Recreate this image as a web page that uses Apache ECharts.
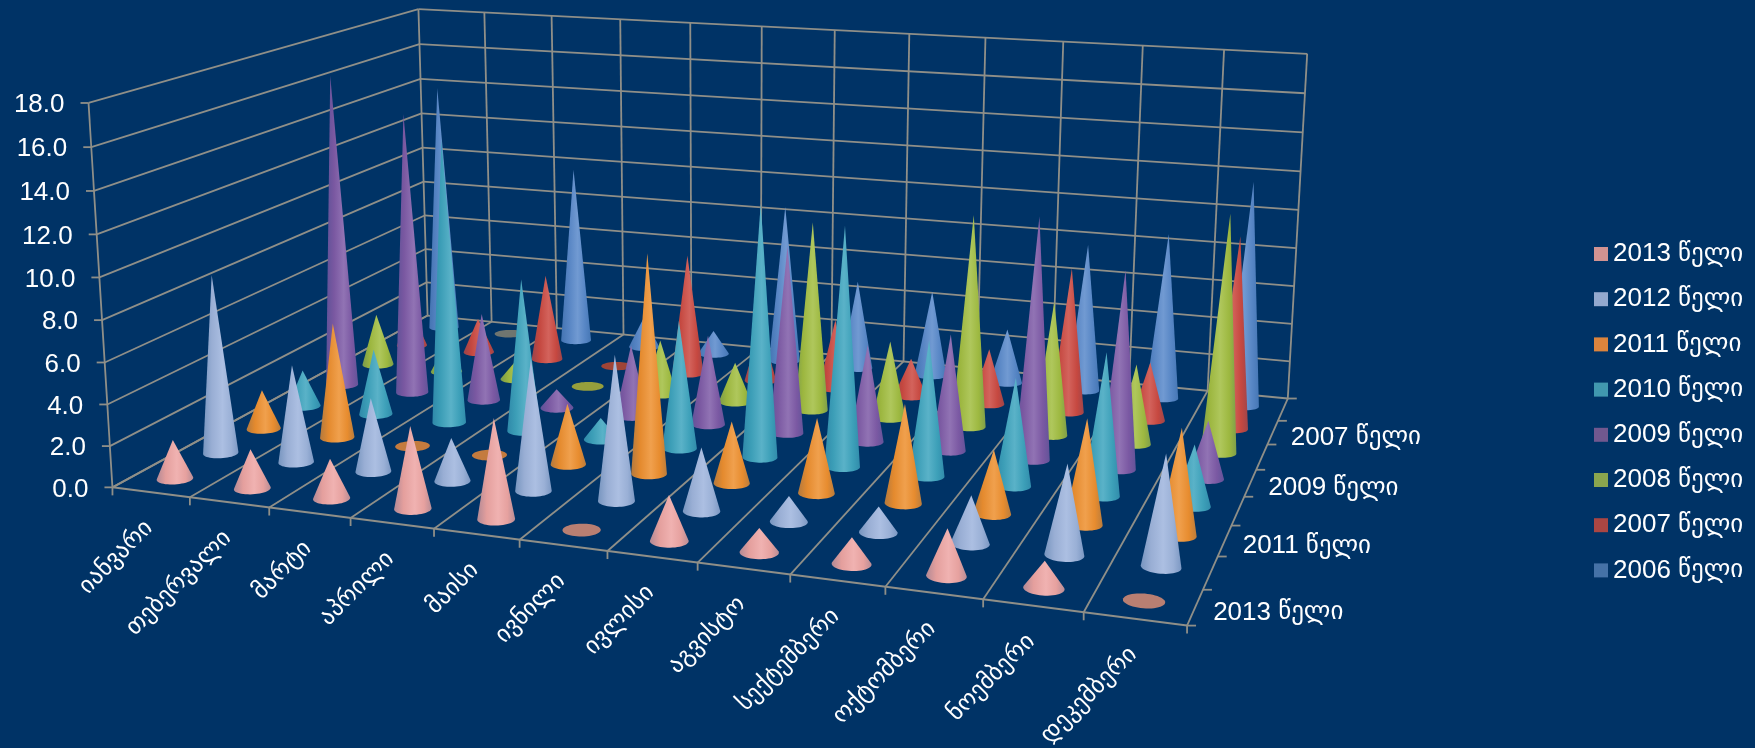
<!DOCTYPE html>
<html>
<head>
<meta charset="utf-8">
<style>html,body{margin:0;padding:0;background:#003366}#c{width:1755px;height:748px}</style>
<script src="https://cdn.jsdelivr.net/npm/echarts@6/dist/echarts.min.js"></script>
</head>
<body>
<div id="c"></div>
<script>
// Monthly figures per year, January to December.
const months = ['იანვარი','თებერვალი','მარტი','აპრილი','მაისი','ივნილი','ივლისი','აგვისტო','სექტემბერი','ოქტომბერი','ნოემბერი','დეკემბერი'];
const years = ['2006','2007','2008','2009','2010','2011','2012','2013'];
const y2006 = [13.9,0,9.8,1.7,1.3,8.6,4.8,4.6,2.9,7.8,8.7,11.7];
const y2007 = [2,1.9,4.7,0,6.5,3,3.7,2,2.9,7.5,3,9.8];
const y2008 = [2.8,1.5,1,0,2.9,2.1,9.8,4,10.8,6.8,4,11.8];
const y2009 = [16.5,14.75,4.6,1,3.7,4.6,9.5,4.9,5.8,11.9,9.65,2.8];
const y2010 = [1.9,3.4,14.4,7.75,1.1,6.4,12.45,11.7,6.6,5.2,6.8,2.9];
const y2011 = [2,5.8,0,0,3,10.65,3,3.6,4.7,3,4.9,4.9];
const y2012 = [8.85,4.8,3.6,2.1,6.3,6.9,3,1.2,1.2,2.2,4.1,5];
const y2013 = [1.9,1.9,1.9,3.9,4.7,0,2.1,1.1,1.2,2.1,1.2,0];
const valueTicks = ['0.0','2.0','4.0','6.0','8.0','10.0','12.0','14.0','16.0','18.0'];
const depthLabels = ['2007','2009','2011','2013'];
const yearValues = [y2006,y2007,y2008,y2009,y2010,y2011,y2012,y2013];
const yearColors = ['#4572A7','#AA4643','#89A54E','#71588F','#4198AF','#DB843D','#93A9CF','#D19392'];
const coneColors = ['#5A8ACB','#CC4A42','#A2BE42','#7F5CA8','#3FA5BF','#EE9030','#9FB5DD','#EDA6A4'];
const flatColors = ['#6F7570','#A04436','#969F3C','#71588F','#4198AF','#C47B3E','#93A9CF','#B97F72'];

const WORD = 'წელი';
const FONT = '"Liberation Sans","DejaVu Sans",sans-serif';
const LINE = '#8f8f88';
const GW = 1000, GH = 500;   // size of the hidden grid that supplies the scales

// Digits are set a little larger than the Georgian word that follows them.
const richText = {
  n:{fontSize:26, fontFamily:FONT, fill:'#ffffff', color:'#ffffff'},
  g:{fontSize:25, fontFamily:FONT, fill:'#ffffff', color:'#ffffff'}
};
const yearLabel = y => `{n|${y}} {g|${WORD}}`;

// Camera: a projective map from the unit box (month, depth, height) to the page,
// solved by least squares from where the box corners should land.
const corners = [
  [0,0,0,113,487],[1,0,0,1187,626],[0,1,0,427,316],[1,1,0,1288,398],
  [0,0,1,88,103],[0,1,1,419,9],[1,1,1,1307,54]
];
function solveCamera() {
  const rows = [], rhs = [];
  corners.forEach(([X,Y,Z,u,v]) => {
    rows.push([X,Y,Z,1,0,0,0,0,-u*X,-u*Y,-u*Z]); rhs.push(u);
    rows.push([0,0,0,0,X,Y,Z,1,-v*X,-v*Y,-v*Z]); rhs.push(v);
  });
  const n = 11, A = [];
  for (let i = 0; i < n; i++) {
    A.push(new Array(n + 1).fill(0));
    for (let j = 0; j < n; j++) rows.forEach(r => { A[i][j] += r[i]*r[j]; });
    rows.forEach((r,k) => { A[i][n] += r[i]*rhs[k]; });
  }
  for (let c = 0; c < n; c++) {
    let p = c;
    for (let r = c + 1; r < n; r++) if (Math.abs(A[r][c]) > Math.abs(A[p][c])) p = r;
    [A[c],A[p]] = [A[p],A[c]];
    for (let r = 0; r < n; r++) {
      if (r === c) continue;
      const f = A[r][c] / A[c][c];
      for (let k = c; k <= n; k++) A[r][k] -= f*A[c][k];
    }
  }
  return A.map((r,i) => r[n]/r[i]);
}
const M = solveCamera();
function project(x,y,z) {
  const w = M[8]*x + M[9]*y + M[10]*z + 1;
  return [(M[0]*x + M[1]*y + M[2]*z + M[3])/w, (M[4]*x + M[5]*y + M[6]*z + M[7])/w];
}

function mix(hex, other, t) {
  const a = parseInt(hex.slice(1),16), b = parseInt(other.slice(1),16);
  const ch = s => Math.round(((a>>s)&255)*(1-t) + ((b>>s)&255)*t);
  return `rgb(${ch(16)},${ch(8)},${ch(0)})`;
}
function hull(points) {
  const p = points.slice().sort((a,b) => a[0]-b[0] || a[1]-b[1]);
  const cross = (o,a,b) => (a[0]-o[0])*(b[1]-o[1]) - (a[1]-o[1])*(b[0]-o[0]);
  const lo = [], up = [];
  p.forEach(q => { while (lo.length > 1 && cross(lo[lo.length-2],lo[lo.length-1],q) <= 0) lo.pop(); lo.push(q); });
  p.slice().reverse().forEach(q => { while (up.length > 1 && cross(up[up.length-2],up[up.length-1],q) <= 0) up.pop(); up.push(q); });
  return lo.slice(0,-1).concat(up.slice(0,-1));
}

// One row of cones: base ellipse on the floor, apex at the value height.
function coneRenderer(yearIndex) {
  const depth = 1 - (yearIndex + 0.5)/years.length;
  const color = coneColors[yearIndex];
  return function (params, api) {
    const month = api.value(0), value = api.value(1);
    const c0 = api.coord([month, 0]), c1 = api.coord([month, value]);
    const u = c0[0]/GW, h = (GH - c1[1])/GH;
    const rx = 0.205/months.length, ry = 0.2/years.length;
    const ring = [];
    for (let a = 0; a < 48; a++) {
      const t = a/48*Math.PI*2;
      ring.push(project(u + rx*Math.cos(t), depth + ry*Math.sin(t), 0));
    }
    const outline = hull(value > 0 ? ring.concat([project(u, depth, h)]) : ring);
    const xs = outline.map(p => p[0]);
    const x0 = Math.min.apply(null, xs), x1 = Math.max.apply(null, xs);
    const fill = value > 0
      ? new echarts.graphic.LinearGradient(x0,0,x1,0,[
          {offset:0, color:mix(color,'#003366',0.25)},
          {offset:0.25, color:mix(color,'#000000',0.04)},
          {offset:0.55, color:mix(color,'#ffffff',0.14)},
          {offset:0.8, color:mix(color,'#000000',0.03)},
          {offset:1, color:mix(color,'#003366',0.22)}
        ], true)
      : flatColors[yearIndex];
    return {type:'polygon', shape:{points:outline}, style:{fill:fill}};
  };
}

// Walls, floor lines, tick marks and axis text of the box.
function renderFrame() {
  const kids = [];
  const seg = (a,b,width) => kids.push({type:'line', shape:{x1:a[0],y1:a[1],x2:b[0],y2:b[1]},
    style:{stroke:LINE, lineWidth:width||1.8}});
  const text = (s,p,opts) => kids.push({type:'text', x:p[0], y:p[1], rotation:opts.rotation||0,
    style:{text:s, fill:'#ffffff', font:(opts.size||26)+'px '+FONT, align:opts.align, verticalAlign:'middle', rich:richText}});
  const nv = valueTicks.length - 1, nm = months.length, ny = years.length;
  for (let i = 0; i <= nv; i++) {
    const z = i/nv, l = project(0,0,z), b = project(0,1,z), r = project(1,1,z);
    seg(l,b); seg(b,r);
    seg(l,[l[0]-8,l[1]]);
    text(valueTicks[i],[l[0]-24,l[1]+2],{align:'right'});
  }
  seg(project(0,0,0),project(0,0,1));
  for (let k = 0; k <= nm; k++) {
    const u = k/nm, f = project(u,0,0), b = project(u,1,0);
    seg(f,b);
    seg(b,project(u,1,1));
    seg(f,[f[0],f[1]+8]);
  }
  seg(project(0,0,0),project(1,0,0),2);
  for (let j = 0; j <= ny; j++) {
    const p = project(1,j/ny,0);
    seg(p,[p[0]+9,p[1]]);
  }
  months.forEach((m,k) => {
    const p = project((k+0.5)/nm,0,0);
    text(m,[p[0]-2,p[1]+32],{align:'right',rotation:Math.PI/4,size:24});
  });
  depthLabels.forEach(lab => {
    const p = project(1,1-(years.indexOf(lab)+0.5)/ny,0);
    text(yearLabel(lab),[p[0]+18,p[1]+5],{align:'left'});
  });
  return {type:'group', children:kids};
}

const series = [{type:'custom', name:'frame', data:[[0,0]], renderItem:renderFrame, silent:true, encode:{x:0,y:1}}];
years.forEach((y,i) => series.push({
  type:'custom',
  name:y,
  itemStyle:{color:yearColors[i]},
  renderItem:coneRenderer(i),
  encode:{x:0,y:1},
  clip:false,
  data:yearValues[i].map((v,m) => [m,v])
}));

const chart = echarts.init(document.getElementById('c'));
chart.setOption({
  animation:false,
  backgroundColor:'#003366',
  grid:{left:0, top:0, width:GW, height:GH, show:false},
  xAxis:{type:'category', data:months, show:false},
  yAxis:{type:'value', min:0, max:18, interval:2, show:false},
  legend:{
    orient:'vertical', left:1589, top:235, icon:'rect', itemWidth:14, itemHeight:14, itemGap:17.2,
    data:years.slice().reverse(),
    formatter:yearLabel,
    textStyle:{color:'#ffffff', fontSize:26, fontFamily:FONT, lineHeight:28, rich:richText},
    selectedMode:false
  },
  tooltip:{show:false},
  series:series
});
</script>
</body>
</html>
